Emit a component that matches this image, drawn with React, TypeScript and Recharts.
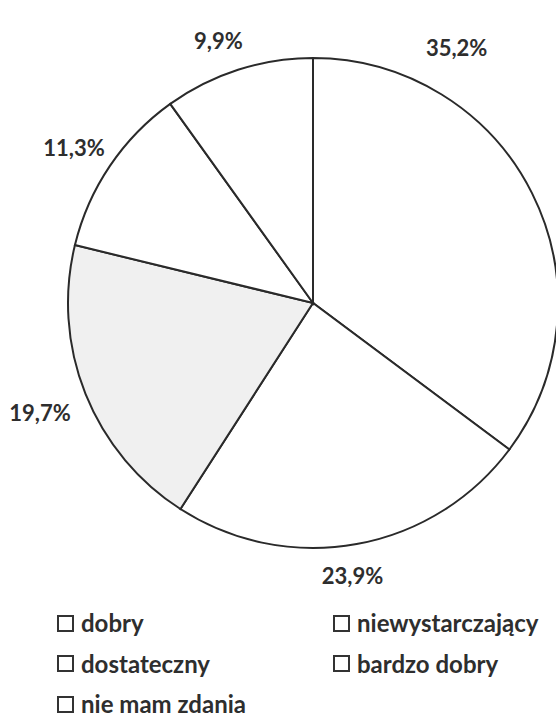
import { PieChart, Pie, Cell, Legend } from 'recharts';

// Data
const categories = ['dobry', 'niewystarczający', 'dostateczny', 'bardzo dobry', 'nie mam zdania'];
const shares = [35.2, 23.9, 19.7, 11.3, 9.9];
const fills = ['#ffffff', '#ffffff', '#f0f0f0', '#ffffff', '#ffffff'];

const chartData = categories.map((name, i) => ({ name, value: shares[i] }));

const FONT = 'Lato, "Open Sans", sans-serif';
const RADIAN = Math.PI / 180;

// Excel's best-fit labels: small tweaks around the mid-angle (first one moved up a lot)
const labelAngleShift = [34, -2, 0, 1, 2];
const labelDistance = [48, 30, 49, 40, 34];

const renderLabel = (props: any) => {
  const { cx, cy, midAngle, outerRadius, index, value } = props;
  const angle = (midAngle + labelAngleShift[index]) * RADIAN;
  const r = outerRadius + labelDistance[index];
  const x = cx + r * Math.cos(angle);
  const y = cy - r * Math.sin(angle);
  return (
    <text
      x={x}
      y={y}
      fill="#2e2e2e"
      textAnchor="middle"
      dominantBaseline="central"
      fontFamily={FONT}
      fontWeight={700}
      fontSize={22}
    >
      {`${String(value).replace('.', ',')}%`}
    </text>
  );
};

const renderLegend = () => (
  <div
    style={{
      display: 'grid',
      gridTemplateColumns: '276px 220px',
      gridAutoRows: '40.5px',
      paddingLeft: 57,
      fontFamily: FONT,
      fontWeight: 700,
      fontSize: 24,
      color: '#2e2e2e',
    }}
  >
    {categories.map((name) => (
      <div key={name} style={{ display: 'flex', alignItems: 'center' }}>
        <span
          style={{
            display: 'inline-block',
            boxSizing: 'border-box',
            width: 17,
            height: 17,
            border: '2px solid #333',
            background: '#fff',
            marginRight: 7,
          }}
        />
        <span style={{ lineHeight: '24px' }}>{name}</span>
      </div>
    ))}
  </div>
);

const App = () => {
  return (
    <div style={{ position: 'absolute', left: 0, top: 0, background: '#fff' }}>
      <PieChart width={556} height={717} margin={{ top: 0, right: 0, bottom: 0, left: 0 }}>
        <Pie
          data={chartData}
          dataKey="value"
          nameKey="name"
          cx={313}
          cy={303}
          outerRadius={245}
          startAngle={90}
          endAngle={-270}
          stroke="#2a2a2a"
          strokeWidth={2}
          label={renderLabel}
          labelLine={false}
          isAnimationActive={false}
        >
          {chartData.map((d, i) => (
            <Cell key={d.name} fill={fills[i]} />
          ))}
        </Pie>
        <Legend content={renderLegend} wrapperStyle={{ top: 603, left: 0, width: 556 }} />
      </PieChart>
    </div>
  );
};

export default App;
